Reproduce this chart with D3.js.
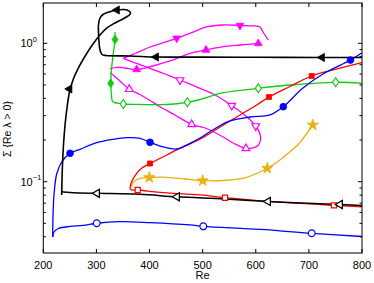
<!DOCTYPE html>
<html><head><meta charset="utf-8">
<script src="https://cdn.jsdelivr.net/npm/d3@7"></script>
<style>body{margin:0;background:#fff}text{font-family:"Liberation Sans",Arial,sans-serif;fill:#000}</style>
</head><body><svg id="c" width="374" height="283"></svg>
<script>
// ---- data (Re, Sigma) ----
const xTicks=[200,300,400,500,600,700,800];
const yMajor=[0.1,1];
const yMinor=[0.04,0.05,0.06,0.07,0.08,0.09,0.2,0.3,0.4,0.5,0.6,0.7,0.8,0.9];

const blackFilledRe=[234.6,235.2,236.1,238.0,240.9,244.6,249.3,255.9,269.1,282.3,293.6,306.7,319.9,335.0,350.0,359.5,364.2,361.3,351.9,338.7,323.7,312.4,306.7,303.9,303.9,304.9,306.7,310.5,318.0,363.2,412.2,495.0,608.0,724.7,800];
const blackFilledS=[0.0802,0.1029,0.1320,0.1842,0.2569,0.3408,0.4446,0.5429,0.6970,0.851,0.988,1.148,1.290,1.402,1.498,1.575,1.642,1.712,1.755,1.740,1.683,1.615,1.523,1.356,1.187,1.022,0.895,0.830,0.816,0.810,0.796,0.794,0.792,0.790,0.790];
const blackFilledMRe=[249.3,338.7,412.2,724.7];
const blackFilledMS=[0.468,1.740,0.796,0.790];

const blackOpenRe=[800,758.6,623.0,542,451.7,382.1,301.1,255.9,239,234.6];
const blackOpenS=[0.0673,0.0684,0.0720,0.0750,0.0778,0.0811,0.0824,0.0833,0.0843,0.0845];
const blackOpenMRe=[301.1,451.7,623.0,758.6];
const blackOpenMS=[0.0824,0.0778,0.0720,0.0684];

const blueFilledRe=[217.7,218.3,220.1,225.2,234.6,250.3,269.1,300.5,331.8,357.0,382.0,400.9,419.7,451.1,476.2,495.0,523.3,551.5,589.1,626.8,651.8,688.9,726.6,778.3,800];
const blueFilledS=[0.0399,0.0575,0.0802,0.1137,0.1388,0.1604,0.1714,0.1913,0.2025,0.2080,0.2059,0.1926,0.1811,0.1723,0.1894,0.2069,0.2423,0.2746,0.2934,0.3034,0.3483,0.4754,0.6001,0.7572,0.855];
const blueFilledMRe=[250.3,400.9,651.8,778.3];
const blueFilledMS=[0.1604,0.1926,0.3483,0.7572];

const blueOpenRe=[217.7,220.1,228.2,250.3,275.3,300.5,344.4,400.9,476.2,501.2,608.5,705.3,800];
const blueOpenS=[0.0399,0.0433,0.0459,0.0475,0.0483,0.0501,0.0514,0.0506,0.0487,0.0476,0.0452,0.0424,0.0402];
const blueOpenMRe=[300.5,501.2,705.3];
const blueOpenMS=[0.0501,0.0476,0.0424];

const redFilledRe=[363.2,366.0,375.8,385.8,400.9,432.3,463.6,495.0,538.9,570.3,601.7,624.9,664.4,705.3,749.2,800];
const redFilledS=[0.0893,0.0995,0.1150,0.1256,0.1353,0.1560,0.1790,0.2025,0.2569,0.3034,0.3582,0.4093,0.4875,0.5804,0.6467,0.7243];
const redFilledMRe=[400.9,624.9,705.3];
const redFilledMS=[0.1353,0.4093,0.5804];

const redOpenRe=[363.2,366.4,377.7,419.7,495,542.1,623.0,747.2,800];
const redOpenS=[0.0893,0.0871,0.0871,0.0838,0.0802,0.0766,0.0720,0.0675,0.0659];
const redOpenMRe=[377.7,542.1,747.2];
const redOpenMS=[0.0871,0.0766,0.0675];

const yellowRe=[366.0,368.9,376.4,385.8,399.6,432.3,466.8,500.1,538.9,582.9,621.7,645.6,664.4,680.1,707.2];
const yellowS=[0.0923,0.0979,0.1037,0.1063,0.1072,0.1076,0.1046,0.1017,0.1020,0.1076,0.1250,0.1435,0.1647,0.1857,0.2569];
const yellowMRe=[399.6,500.1,621.7,707.2];
const yellowMS=[0.1072,0.1017,0.1250,0.2569];

const greenFilledRe=[335.0,335.0,331.8,328.8,326.9,328.4,329.9,333.1];
const greenFilledS=[1.207,1.065,0.847,0.674,0.514,0.423,0.383,0.3735];
const greenFilledMRe=[335.0,326.9];
const greenFilledMS=[1.065,0.514];

const greenOpenRe=[333.1,341.2,350.6,382.1,432.3,471.1,495.0,538.9,604.8,664.4,750.5,800];
const greenOpenS=[0.3735,0.3686,0.3643,0.3613,0.3613,0.3748,0.3926,0.4395,0.4731,0.4995,0.5228,0.514];
const greenOpenMRe=[350.6,471.1,604.8,750.5];
const greenOpenMS=[0.3643,0.3748,0.4731,0.5228];

const magDownRe=[350.6,372.6,400.9,432.3,451.1,476.2,507.6,538.9,570.3,598.6,608.0,613.6,623.6];
const magDownS=[0.777,0.844,0.940,1.027,1.087,1.181,1.312,1.356,1.345,1.334,1.312,1.207,1.056];
const magDownMRe=[451.1,570.3];
const magDownMS=[1.087,1.345];

const magUpRe=[325.6,338.2,353.8,375.8,400.9,438.5,476.2,506.3,538.9,570.3,604.8];
const magUpS=[0.657,0.671,0.663,0.647,0.677,0.745,0.847,0.895,0.945,0.972,0.997];
const magUpMRe=[375.8,506.3,604.8];
const magUpMS=[0.647,0.895,0.997];

const magLoopRe=[350.6,372.6,400.9,429.1,457.3,495.0,520.0,554.7,582.9,599.9,608.0,608.9,604.2,594.8,581.6,560.9,538.9,504.4,479.4,447.9,419.7,400.9,382.1,361.9,344.4,331.2,325.6];
const magLoopS=[0.777,0.721,0.660,0.600,0.543,0.473,0.430,0.355,0.295,0.2526,0.2212,0.2001,0.1827,0.1752,0.1738,0.1872,0.2104,0.2444,0.2591,0.3034,0.3483,0.386,0.4266,0.4653,0.534,0.590,0.613];
const magLoopDownMRe=[457.3,554.7,599.9];
const magLoopDownMS=[0.543,0.355,0.2526];
const magLoopUpMRe=[361.9,479.4,581.6];
const magLoopUpMS=[0.4653,0.2591,0.1738];

// ---- layout ----
const L=43.3,R=362,T=3,B=253;
const svg=d3.select("#c");
const x=d3.scaleLinear().domain([200,800]).range([L,R]);
const y=d3.scaleLog().domain([0.03054,1.955]).range([B,T]);

const C={black:"#000",blue:"#0000ff",red:"#ff0000",green:"#10cc10",mag:"#ff00ff",yellow:"#e8b010"};
const zip=(a,b)=>a.map((v,i)=>[v,b[i]]);

svg.append("clipPath").attr("id","clip").append("rect").attr("x",L).attr("y",T).attr("width",R-L).attr("height",B-T);
const g=svg.append("g").attr("clip-path","url(#clip)");

const line=d3.line().x(d=>x(d[0])).y(d=>y(d[1])).curve(d3.curveCatmullRom.alpha(0.5));
const lines=[
 [magLoopRe,magLoopS,C.mag,1.3],[magUpRe,magUpS,C.mag,1.3],[magDownRe,magDownS,C.mag,1.3],
 [greenFilledRe,greenFilledS,C.green,1.3],[greenOpenRe,greenOpenS,C.green,1.3],
 [yellowRe,yellowS,C.yellow,1.3],
 [redOpenRe,redOpenS,C.red,1.3],[redFilledRe,redFilledS,C.red,1.3],
 [blueOpenRe,blueOpenS,C.blue,1.3],[blueFilledRe,blueFilledS,C.blue,1.3],
 [blackOpenRe,blackOpenS,C.black,1.5],[blackFilledRe,blackFilledS,C.black,1.6]
];
lines.forEach(([a,b,c,w])=>g.append("path").attr("d",line(zip(a,b))).attr("fill","none").attr("stroke",c).attr("stroke-width",w).attr("stroke-linejoin","round"));

// markers
const markers=[
 [magLoopDownMRe,magLoopDownMS,C.mag,"tri",180,false],
 [magLoopUpMRe,magLoopUpMS,C.mag,"tri",0,false],
 [magUpMRe,magUpMS,C.mag,"tri",0,true],
 [magDownMRe,magDownMS,C.mag,"tri",180,true],
 [greenFilledMRe,greenFilledMS,C.green,"dia",0,true],
 [greenOpenMRe,greenOpenMS,C.green,"dia",0,false],
 [yellowMRe,yellowMS,C.yellow,"star",0,true],
 [redOpenMRe,redOpenMS,C.red,"sq",0,false],
 [redFilledMRe,redFilledMS,C.red,"sq",0,true],
 [blueOpenMRe,blueOpenMS,C.blue,"circ",0,false],
 [blueFilledMRe,blueFilledMS,C.blue,"circ",0,true],
 [blackOpenMRe,blackOpenMS,C.black,"tri",-90,false],
 [blackFilledMRe,blackFilledMS,C.black,"tri",-90,true]
];
const sym={
 tri:d3.symbol(d3.symbolTriangle,26)(),
 star:d3.symbol(d3.symbolStar,40)(),
 sq:d3.symbol(d3.symbolSquare,26)(),
 circ:d3.symbol(d3.symbolCircle,36)()
};
const diaPath="M0,-4.5L3,0L0,4.5L-3,0Z";
markers.forEach(([a,b,c,t,rot,filled])=>{
 const big = c===C.black ? 1.05 : 1;
 zip(a,b).forEach(d=>{
  g.append("path").attr("d",t==="dia"?diaPath:sym[t])
   .attr("transform",`translate(${x(d[0])},${y(d[1])}) rotate(${rot}) scale(${big})`)
   .attr("fill",filled?c:"#fff").attr("stroke",c).attr("stroke-width",filled?0.8:1.2);
 });
});

// frame & ticks
const ax=svg.append("g").attr("stroke","#000").attr("stroke-width",1);
ax.append("rect").attr("x",L).attr("y",T).attr("width",R-L).attr("height",B-T).attr("fill","none");
xTicks.forEach(v=>{
 ax.append("line").attr("x1",x(v)).attr("x2",x(v)).attr("y1",B).attr("y2",B-4);
 ax.append("line").attr("x1",x(v)).attr("x2",x(v)).attr("y1",T).attr("y2",T+4);
});
yMajor.forEach(v=>{
 ax.append("line").attr("x1",L).attr("x2",L+4).attr("y1",y(v)).attr("y2",y(v));
 ax.append("line").attr("x1",R).attr("x2",R-4).attr("y1",y(v)).attr("y2",y(v));
});
yMinor.forEach(v=>{
 ax.append("line").attr("x1",L).attr("x2",L+2.5).attr("y1",y(v)).attr("y2",y(v));
 ax.append("line").attr("x1",R).attr("x2",R-2.5).attr("y1",y(v)).attr("y2",y(v));
});
svg.append("g").selectAll("text").data(xTicks).join("text")
 .attr("x",d=>x(d)).attr("y",268.5).attr("text-anchor","middle").attr("font-size",11).text(d=>d);
svg.append("text").attr("x",x(500)).attr("y",279).attr("text-anchor","middle").attr("font-size",11).text("Re");
const yl=svg.append("g");
[[1,"0"],[0.1,"\u22121"]].forEach(([v,e])=>{
 const t=yl.append("text").attr("x",20.5).attr("y",y(v)+4).attr("font-size",11).text("10");
 t.append("tspan").attr("dy",-5.5).attr("font-size",7.5).text(e);
});
svg.append("text").attr("transform","translate(11,129) rotate(-90)").attr("text-anchor","middle").attr("font-size",10.5).text("Σ {Re λ > 0}");
</script></body></html>
